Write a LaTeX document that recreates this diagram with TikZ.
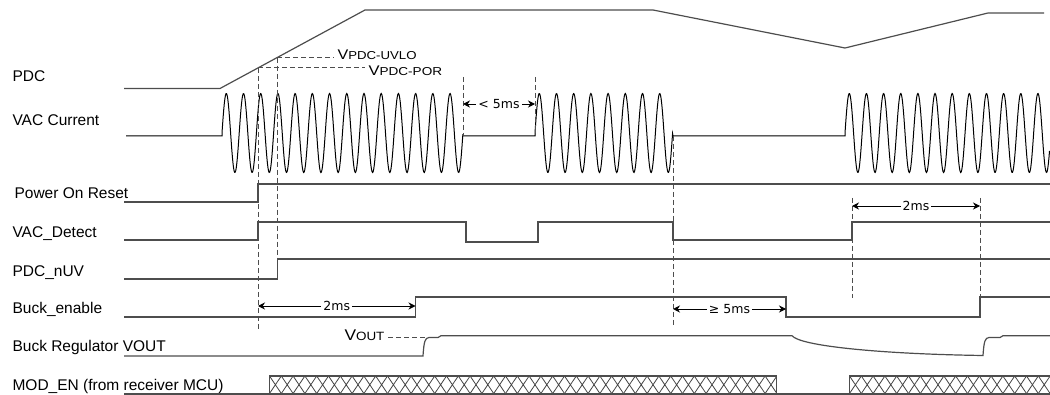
\documentclass[tikz,border=0pt]{standalone}
\usepackage{fontspec}
\setmainfont{Liberation Sans}
\newfontfamily\msfont{DejaVu Sans}
\usepackage{tikz}
\usetikzlibrary{arrows.meta,calc}
\usepackage{xcolor}
\definecolor{wire}{HTML}{4D4D4D}
\definecolor{hatchgray}{HTML}{444444}

\tikzset{
  siglabel/.style={anchor=base west, inner sep=0pt, font=\fontsize{15.5}{18}\selectfont},
  level/.style={draw=wire, line width=1.2pt},
  guide/.style={draw=wire, line width=0.9pt, dash pattern=on 5pt off 3pt},
  dim/.style={<->, >={Stealth[length=7pt, width=7pt]}, line width=0.9pt},
  mslabel/.style={fill=white, inner sep=2pt, font=\msfont\fontsize{12.5}{13}\selectfont},
  thrlabel/.style={anchor=west, inner sep=3pt},
  hatchline/.style={draw=hatchgray, line width=0.8pt}
}

\begin{document}
\begin{tikzpicture}[x=1pt, y=-1pt, >=Stealth, line width=1.1pt]
  \useasboundingbox (0,0) rectangle (1050,395);

  % Signal names
  \node[siglabel] (lpdc) at (12,82) {PDC};
  \node[siglabel] (lvac) at (12,126) {VAC Current};
  \node[siglabel] (lpor) at (14,199) {Power On Reset};
  \node[siglabel] (ldet) at (12,238) {VAC\_Detect};
  \node[siglabel] (lnuv) at (12,277) {PDC\_nUV};
  \node[siglabel] (lbuck) at (12,314) {Buck\_enable};
  \node[siglabel] (lvout) at (12,352) {Buck Regulator VOUT};
  \node[siglabel] (lmod) at (12,390) {MOD\_EN (from receiver MCU)};

  % PDC
  \draw[level] (124,88.5) -- (220,88.5) -- (365,10) -- (653,10) -- (845,48) -- (988,13) -- (1044,13);

  % VAC current (cycles of about 17.2)
  \draw[black, line width=1pt] (126,136) -- (222,136)
    -- plot[domain=0:14, samples=420] ({222+17.21*\x}, {133 - 39.5*sin(360*\x)})
    -- (463,136) -- (535,136)
    -- plot[domain=0:8, samples=240] ({535+17.2*\x}, {133 - 39.5*sin(360*\x)})
    -- (673,136) -- (845,136)
    -- plot[domain=0:11.93, samples=360] ({845+17.15*\x}, {133 - 39.5*sin(360*\x)});

  % Power On Reset
  \draw[level] (124,202) -- (258,202) -- (258,184) -- (1050,184);

  % VAC_Detect
  \draw[level] (124,240) -- (258,240) -- (258,222) -- (466,222) -- (466,242) -- (538,242)
    -- (538,222) -- (673,222) -- (673,240) -- (852,240) -- (852,222) -- (1050,222);

  % PDC_nUV
  \draw[level] (124,279) -- (277.5,279) -- (277.5,259) -- (1050,259);

  % Buck_enable
  \draw[level] (124,317) -- (415.5,317) -- (415.5,297) -- (786,297) -- (786,317)
    -- (980,317) -- (980,297) -- (1050,297);

  % Buck regulator output
  \draw[level] (124,356) -- (423,356) .. controls (424,341) and (425,338) .. (429,337.5)
    -- (438,337.5) -- (441,335.7) -- (792,335.7)
    .. controls (800,346) and (880,354) .. (983,355.5)
    .. controls (984,341) and (985,338) .. (989,337.5)
    -- (1000,337.5) -- (1003,335.7) -- (1050,335.7);

  % MOD_EN
  \draw[level] (124,394) -- (1050,394);
  \begin{scope}
    \clip (269.5,376) rectangle (776.5,393.5);
    \foreach \hx in {269.5,281.3,...,790} {
      \draw[hatchline] (\hx,376) -- ++(11.8,17.5) (\hx+11.8,376) -- ++(-11.8,17.5);
    }
  \end{scope}
  \begin{scope}
    \clip (849.5,376) rectangle (1050,393.5);
    \foreach \hx in {849.5,861.3,...,1060} {
      \draw[hatchline] (\hx,376) -- ++(11.8,17.5) (\hx+11.8,376) -- ++(-11.8,17.5);
    }
  \end{scope}
  \draw[draw=wire, line width=1.1pt] (269.5,376) rectangle (776.5,393.5);
  \draw[draw=wire, line width=1.1pt] (1052,376) -- (849.5,376) -- (849.5,393.5) -- (1052,393.5);

  % Thresholds on PDC
  \coordinate (porcross) at (258,67.9);
  \coordinate (uvcross) at (277,57.6);
  \node[thrlabel] (uvlotext) at (334,55) {\scalebox{1.15}[1]{{\fontsize{14}{14}\selectfont V}{\fontsize{11.5}{11.5}\selectfont PDC-UVLO}}};
  \node[thrlabel] (portext) at (365,71) {\scalebox{1.18}[1]{{\fontsize{14}{14}\selectfont V}{\fontsize{11.5}{11.5}\selectfont PDC-POR}}};
  \draw[guide] (uvcross) -- (uvcross -| uvlotext.west);
  \draw[guide] (porcross) -- (porcross -| portext.west);

  % Timing marks
  \coordinate (porbot) at (258,329);
  \coordinate (uvbot) at (277,260);
  \coordinate (gapa) at (463,77);
  \coordinate (gapab) at (463,136);
  \coordinate (gapb) at (535,77);
  \coordinate (gapbb) at (535,136);
  \coordinate (losstop) at (673,136);
  \coordinate (lossbot) at (673,326);
  \coordinate (dettop) at (852,198);
  \coordinate (detbot) at (852,298);
  \coordinate (entop) at (980,198);
  \coordinate (enbot) at (980,298);
  \draw[guide] (porcross) -- (porbot);
  \draw[guide] (uvcross) -- (uvbot);
  \draw[guide] (gapa) -- (gapab);
  \draw[guide] (gapb) -- (gapbb);
  \draw[guide] (losstop) -- (lossbot);
  \draw[guide] (dettop) -- (detbot);
  \draw[guide] (entop) -- (enbot);

  % Output level mark
  \coordinate (voutknee) at (426,337.5);
  \node[thrlabel, anchor=east] (vouttext) at (388,335) {\scalebox{1.12}[1]{{\fontsize{15.5}{15.5}\selectfont V}{\fontsize{12}{12}\selectfont OUT}}};
  \draw[guide] (vouttext.east |- voutknee) -- (voutknee);

  % Durations
  \coordinate (d1a) at (463,104);
  \coordinate (d1b) at (535,104);
  \coordinate (d2a) at (258,306);
  \coordinate (d2b) at (415.5,306);
  \coordinate (d3a) at (852,206);
  \coordinate (d3b) at (980,206);
  \coordinate (d4a) at (673,309);
  \coordinate (d4b) at (786,309);
  \draw[dim] (d1a) -- (d1b) node[mslabel, midway] (t1) {< 5ms};
  \draw[dim] (d2a) -- (d2b) node[mslabel, midway] (t2) {2ms};
  \draw[dim] (d3a) -- (d3b) node[mslabel, midway] (t3) {2ms};
  \draw[dim] (d4a) -- (d4b) node[mslabel, midway] (t4) {≥ 5ms};
\end{tikzpicture}
\end{document}
